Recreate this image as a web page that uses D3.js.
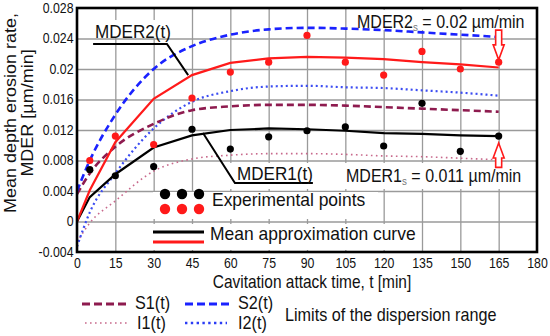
<!DOCTYPE html>
<html lang="en">
<head>
    <meta charset="UTF-8">
    <title>Mean depth erosion rate</title>
    <script src="https://d3js.org/d3.v7.min.js"></script>
    <style>
        body { margin: 0; background: #fff; }
        text { font-family: Arial, "Liberation Sans", sans-serif; fill: #111; }
        .grid line { stroke: #9a9a9a; stroke-width: 1.3; }
        .grid path { display: none; }
    </style>
</head>
<body>
    <svg width="550" height="336"></svg>

    <script>
        // Curve sample times (min) and fitted curves
        const times = [0, 5, 15, 30, 45, 60, 75, 90, 105, 120, 135, 150, 165];
        const mder2 = [0, 0.0041, 0.0104, 0.0161, 0.0192, 0.0208, 0.0214, 0.0216, 0.0215, 0.0213, 0.0209, 0.0206, 0.0202];
        const mder1 = [0, 0.0032, 0.0062, 0.0097, 0.0113, 0.0120, 0.0122, 0.0121, 0.0119, 0.0116, 0.0115, 0.0113, 0.0112];
        const s2 = [0.0040, 0.0080, 0.0140, 0.0200, 0.0230, 0.0245, 0.0252, 0.0254, 0.0253, 0.0251, 0.0248, 0.0245, 0.0242];
        const s1 = [0.0036, 0.0063, 0.0098, 0.0128, 0.0146, 0.0151, 0.0153, 0.0153, 0.0152, 0.0150, 0.0148, 0.0146, 0.0144];
        const i2 = [-0.0033, 0.0012, 0.0063, 0.0122, 0.0157, 0.0171, 0.0177, 0.0178, 0.0176, 0.0175, 0.0172, 0.0169, 0.0165];
        const i1 = [-0.0027, -0.0002, 0.0027, 0.0066, 0.0082, 0.0087, 0.0089, 0.0089, 0.0088, 0.0086, 0.0085, 0.0083, 0.0081];

        // Experimental points
        const expTimes = [5, 15, 30, 45, 60, 75, 90, 105, 120, 135, 150, 165];
        const exp2 = [0.0080, 0.0112, 0.0101, 0.0162, 0.0196, 0.0209, 0.0244, 0.0209, 0.0192, 0.0223, 0.0200, 0.0209];
        const exp1 = [0.0068, 0.0060, 0.0072, 0.0121, 0.0095, 0.0111, 0.0119, 0.0124, 0.0099, 0.0155, 0.0092, 0.0112];

        // Tick values
        const xTicks = [0, 15, 30, 45, 60, 75, 90, 105, 120, 135, 150, 165, 180];
        const yTicks = [-0.004, 0, 0.004, 0.008, 0.012, 0.016, 0.02, 0.024, 0.028];

        // Annotation leaders in data units [t, value]
        const mder2Leader = [[6.3, 0.02328], [35.2, 0.02328], [43.5, 0.0192]];
        const mder1Leader = [[49.3, 0.0116], [61.8, 0.00505], [92.3, 0.00505]];

        const svg = d3.select("svg");
        const x = d3.scaleLinear().domain([0, 180]).range([77, 537]);
        const y = d3.scaleLinear().domain([-0.004, 0.028]).range([252, 8]);

        // text helper: glyphs in the picture are a bit narrow
        function label(g, px, py, str, size, sx, anchor) {
            return g.append("text")
                .attr("transform", `translate(${px},${py}) scale(${sx},1)`)
                .attr("font-size", size)
                .attr("text-anchor", anchor || "start")
                .text(str);
        }

        // grid
        svg.append("g").attr("class", "grid")
            .attr("transform", `translate(0,${y(-0.004)})`)
            .call(d3.axisBottom(x).tickValues(xTicks.slice(1, -1)).tickSize(-(y(-0.004) - y(0.028))).tickFormat(""));
        svg.append("g").attr("class", "grid")
            .attr("transform", `translate(${x(0)},0)`)
            .call(d3.axisLeft(y).tickValues(yTicks.slice(1, -1)).tickSize(-(x(180) - x(0))).tickFormat(""));

        // white boxes behind annotation texts
        const boxes = [[92, 20, 80, 18], [355, 10, 176, 20], [206, 163, 329, 26], [153, 192, 225, 27], [153, 224, 265, 26]];
        boxes.forEach(b => svg.append("rect").attr("x", b[0]).attr("y", b[1]).attr("width", b[2]).attr("height", b[3]).attr("fill", "#fff"));

        // axes labels
        const xAxis = svg.append("g")
            .attr("transform", `translate(0,${y(-0.004)})`)
            .call(d3.axisBottom(x).tickValues(xTicks).tickSize(0).tickPadding(6));
        const yAxis = svg.append("g")
            .attr("transform", `translate(${x(0)},0)`)
            .call(d3.axisLeft(y).tickValues(yTicks).tickSize(0).tickPadding(4)
                .tickFormat(d => String(+d.toFixed(3))));
        [xAxis, yAxis].forEach(a => {
            a.select(".domain").remove();
            a.selectAll("text")
                .attr("font-size", 14)
                .attr("font-family", "Arial, 'Liberation Sans', sans-serif")
                .attr("fill", "#111")
                .attr("transform", "scale(0.88,1)");
        });

        // curves
        const line = d3.line().x(d => x(d[0])).y(d => y(d[1]));
        const smooth = d3.line().x(d => x(d[0])).y(d => y(d[1])).curve(d3.curveMonotoneX);
        const pairs = arr => times.map((t, i) => [t, arr[i]]);

        const series = [
            { data: i1, color: "#c8698c", width: 1.6, dash: "1.6,3.4", gen: smooth },
            { data: i2, color: "#3b4cf2", width: 2.2, dash: "2,3", gen: smooth },
            { data: s1, color: "#8e1b4f", width: 2.6, dash: "7,4", gen: smooth },
            { data: s2, color: "#1a22ff", width: 2.6, dash: "7,4", gen: smooth },
            { data: mder1, color: "#000", width: 2.2, dash: null, gen: line },
            { data: mder2, color: "#ff1a1a", width: 2.2, dash: null, gen: line }
        ];
        series.forEach(s => {
            svg.append("path")
                .datum(pairs(s.data))
                .attr("fill", "none")
                .attr("stroke", s.color)
                .attr("stroke-width", s.width)
                .attr("stroke-dasharray", s.dash)
                .attr("d", s.gen);
        });

        // experimental points
        [[exp1, "#000"], [exp2, "#ff1a1a"]].forEach(([vals, c]) => {
            svg.append("g").selectAll("circle")
                .data(expTimes.map((t, i) => [t, vals[i]]))
                .join("circle")
                .attr("cx", d => x(d[0]))
                .attr("cy", d => y(d[1]))
                .attr("r", 3.6)
                .attr("fill", c);
        });

        // plot frame
        svg.append("rect")
            .attr("x", x(0)).attr("y", y(0.028))
            .attr("width", x(180) - x(0)).attr("height", y(-0.004) - y(0.028))
            .attr("fill", "none").attr("stroke", "#000").attr("stroke-width", 2.6);

        // leader lines
        [mder2Leader, mder1Leader].forEach(pts => {
            svg.append("path").datum(pts)
                .attr("fill", "none").attr("stroke", "#000").attr("stroke-width", 2)
                .attr("d", line);
        });
        label(svg, 95, 38, "MDER2(t)", 18, 0.95);
        label(svg, 237, 180, "MDER1(t)", 18, 0.95);

        // red hollow arrows at t = 165
        function arrow(t, vFrom, vTo) {
            const cx = x(t), y0 = y(vFrom), y1 = y(vTo);
            const dir = Math.sign(y1 - y0), hl = 15 * dir;
            const p = [[cx - 3, y0], [cx + 3, y0], [cx + 3, y1 - hl], [cx + 5.5, y1 - hl],
                       [cx, y1], [cx - 5.5, y1 - hl], [cx - 3, y1 - hl]];
            svg.append("path")
                .attr("d", "M" + p.join("L") + "Z")
                .attr("fill", "#fff").attr("stroke", "#ff1a1a").attr("stroke-width", 1.6);
        }
        arrow(165, 0.0251, 0.0212);
        arrow(165, 0.0071, 0.0103);

        // MDER_s texts
        function sLabel(px, py, n, rest) {
            const t = label(svg, px, py, "MDER" + n, 18, 0.89);
            t.append("tspan").attr("font-size", 11).attr("dy", 3).attr("fill", "#777").text("s");
            t.append("tspan").attr("dy", -3).text(" = " + rest);
        }
        sLabel(357, 28, "2", "0.02 µm/min");
        sLabel(346, 182, "1", "0.011 µm/min");

        // in-plot legend
        [[exp1, "#000", 194], [exp2, "#ff1a1a", 209]].forEach(([_, c, cy]) => {
            [165, 182, 199].forEach(cx => svg.append("circle").attr("cx", cx).attr("cy", cy).attr("r", 5.2).attr("fill", c));
        });
        label(svg, 212, 206, "Experimental points", 18, 0.97);
        svg.append("line").attr("x1", 153).attr("x2", 204).attr("y1", 232).attr("y2", 232).attr("stroke", "#000").attr("stroke-width", 3);
        svg.append("line").attr("x1", 153).attr("x2", 204).attr("y1", 242).attr("y2", 242).attr("stroke", "#ff1a1a").attr("stroke-width", 3);
        label(svg, 210, 240, "Mean approximation curve", 18, 0.97);

        // axis titles
        label(svg, 312, 288, "Cavitation attack time, t [min]", 18, 0.86, "middle");
        svg.append("text")
            .attr("transform", "translate(16,113) scale(0.88,1) rotate(-90)")
            .attr("font-size", 18).attr("text-anchor", "middle")
            .text("Mean depth erosion rate,");
        svg.append("text")
            .attr("transform", "translate(33,113) scale(0.88,1) rotate(-90)")
            .attr("font-size", 18).attr("text-anchor", "middle")
            .text("MDER [µm/min]");

        // bottom legend
        const keys = [
            { name: "S1(t)", color: "#8e1b4f", width: 3, dash: "8,4", x0: 82, x1: 127, ly: 304, tx: 135, ty: 309 },
            { name: "S2(t)", color: "#1a22ff", width: 3, dash: "8,4", x0: 185, x1: 232, ly: 304, tx: 238, ty: 309 },
            { name: "I1(t)", color: "#c8698c", width: 1.6, dash: "1.6,3.4", x0: 85, x1: 128, ly: 323, tx: 137, ty: 329 },
            { name: "I2(t)", color: "#2b3cf5", width: 2.6, dash: "2.4,3.4", x0: 185, x1: 227, ly: 323, tx: 238, ty: 329 }
        ];
        keys.forEach(k => {
            svg.append("line").attr("x1", k.x0).attr("x2", k.x1).attr("y1", k.ly).attr("y2", k.ly)
                .attr("stroke", k.color).attr("stroke-width", k.width).attr("stroke-dasharray", k.dash);
            label(svg, k.tx, k.ty, k.name, 18, 0.9);
        });
        label(svg, 285, 321, "Limits of the dispersion range", 18, 0.9);
    </script>
</body>
</html>
